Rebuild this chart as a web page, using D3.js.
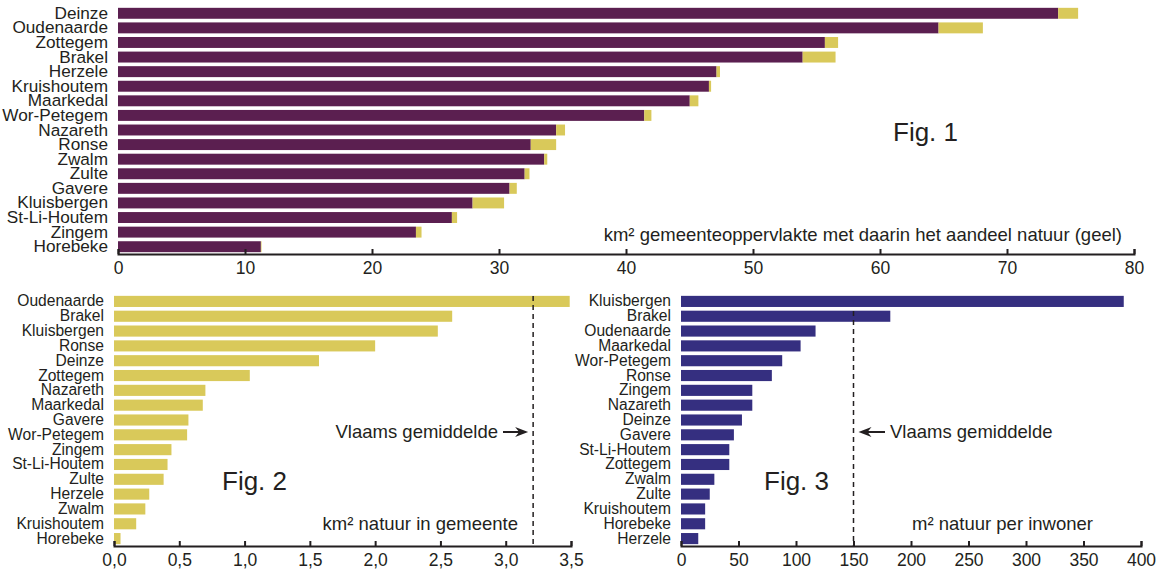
<!DOCTYPE html>
<html><head><meta charset="utf-8">
<script src="https://cdn.jsdelivr.net/npm/d3@7"></script>
<style>
body{margin:0;background:#fff;}
svg text{font-family:"Liberation Sans",Arial,sans-serif;fill:#231f20;}
</style></head>
<body><svg id="c" width="1159" height="573"></svg>
<script>
// Fig. 1: total municipal area (km²) with nature share
const fig1Names = ["Deinze","Oudenaarde","Zottegem","Brakel","Herzele","Kruishoutem","Maarkedal","Wor-Petegem","Nazareth","Ronse","Zwalm","Zulte","Gavere","Kluisbergen","St-Li-Houtem","Zingem","Horebeke"];
const fig1Total = [75.6,68.1,56.7,56.5,47.4,46.7,45.7,42.0,35.2,34.5,33.8,32.4,31.4,30.4,26.7,23.9,11.3];
const fig1Nature = [1.57,3.49,1.04,2.59,0.27,0.17,0.68,0.56,0.70,2.0,0.24,0.38,0.57,2.48,0.41,0.44,0.05];
const fig1Ticks = [0,10,20,30,40,50,60,70,80];

// Fig. 2: km² nature in municipality
const fig2Names = ["Oudenaarde","Brakel","Kluisbergen","Ronse","Deinze","Zottegem","Nazareth","Maarkedal","Gavere","Wor-Petegem","Zingem","St-Li-Houtem","Zulte","Herzele","Zwalm","Kruishoutem","Horebeke"];
const fig2Values = [3.49,2.59,2.48,2.0,1.57,1.04,0.70,0.68,0.57,0.56,0.44,0.41,0.38,0.27,0.24,0.17,0.05];
const fig2Ticks = [0,0.5,1,1.5,2,2.5,3,3.5];
const fig2Avg = 3.21;

// Fig. 3: m² nature per inhabitant
const fig3Names = ["Kluisbergen","Brakel","Oudenaarde","Maarkedal","Wor-Petegem","Ronse","Zingem","Nazareth","Deinze","Gavere","St-Li-Houtem","Zottegem","Zwalm","Zulte","Kruishoutem","Horebeke","Herzele"];
const fig3Values = [385,182,117,104,88,79,62,62,53,46,42,42,29,25,21,21,15];
const fig3Ticks = [0,50,100,150,200,250,300,350,400];
const fig3Avg = 150;

const purple = "#5b1f50", yellow = "#d9c95a", blue = "#352f80";
const svg = d3.select("#c");
const FS_TICK = 17.5, FS_NOTE = 18.5, FS_FIG = 26;

function drawAxis(g, x, y0, ticks, fmt){
  const ax = d3.axisBottom(x).tickValues(ticks).tickSize(-5).tickSizeOuter(-5).tickPadding(8).tickFormat(fmt);
  const a = g.append("g").attr("transform",`translate(0,${y0})`).call(ax);
  a.select(".domain").attr("stroke","#231f20").attr("stroke-width",2);
  a.selectAll(".tick line").attr("stroke","#231f20").attr("stroke-width",2);
  a.selectAll(".tick text").attr("font-size",FS_TICK).attr("font-family","Liberation Sans, Arial, sans-serif").attr("fill","#231f20");
}
function drawNames(g, y, xLeft, fs){
  const ax = d3.axisLeft(y).tickSize(0).tickPadding(10);
  const a = g.append("g").attr("transform",`translate(${xLeft},0)`).call(ax);
  a.select(".domain").remove();
  a.selectAll(".tick text").attr("font-size",fs).attr("font-family","Liberation Sans, Arial, sans-serif").attr("fill","#231f20");
}
function arrow(g, x1, x2, y){
  const dir = Math.sign(x2-x1);
  g.append("line").attr("x1",x1).attr("x2",x2-dir*8).attr("y1",y).attr("y2",y).attr("stroke","#231f20").attr("stroke-width",2);
  g.append("path").attr("d",`M${x2},${y} L${x2-dir*13},${y-5} L${x2-dir*9},${y} L${x2-dir*13},${y+5} Z`).attr("fill","#231f20");
}

// ---- Fig 1
{
  const g = svg.append("g");
  const x = d3.scaleLinear().domain([0,80]).range([118,1134]);
  const y = d3.scaleBand().domain(fig1Names).range([6,254]).paddingInner(0.25).paddingOuter(0.125);
  const rows = fig1Names.map((n,i)=>({n, t:fig1Total[i], nat:fig1Nature[i]}));
  g.selectAll("rect.p").data(rows).join("rect").attr("class","p")
    .attr("x",x(0)).attr("y",d=>y(d.n)).attr("height",y.bandwidth())
    .attr("width",d=>x(d.t-d.nat)-x(0)).attr("fill",purple);
  g.selectAll("rect.y").data(rows).join("rect").attr("class","y")
    .attr("x",d=>x(d.t-d.nat)).attr("y",d=>y(d.n)).attr("height",y.bandwidth())
    .attr("width",d=>x(d.t)-x(d.t-d.nat)).attr("fill",yellow);
  drawAxis(g, x, 254, fig1Ticks, d3.format("d"));
  drawNames(g, y, 118, 17.2);
  g.append("text").attr("x",893).attr("y",141).attr("font-size",FS_FIG).text("Fig. 1");
  g.append("text").attr("x",1122).attr("y",241).attr("text-anchor","end").attr("font-size",FS_NOTE).text("km² gemeenteoppervlakte met daarin het aandeel natuur (geel)");
}
// ---- Fig 2
{
  const g = svg.append("g");
  const x = d3.scaleLinear().domain([0,3.5]).range([114,571]);
  const y = d3.scaleBand().domain(fig2Names).range([294,546]).paddingInner(0.25).paddingOuter(0.125);
  g.selectAll("rect").data(fig2Names.map((n,i)=>({n,v:fig2Values[i]}))).join("rect")
    .attr("x",x(0)).attr("y",d=>y(d.n)).attr("height",y.bandwidth())
    .attr("width",d=>x(d.v)-x(0)).attr("fill",yellow);
  g.append("line").attr("x1",x(fig2Avg)).attr("x2",x(fig2Avg)).attr("y1",296).attr("y2",546)
    .attr("stroke","#231f20").attr("stroke-width",1.5).attr("stroke-dasharray","5,4");
  drawAxis(g, x, 546, fig2Ticks, d=>d3.format(".1f")(d).replace(".",","));
  drawNames(g, y, 114, 15.6);
  g.append("text").attr("x",498).attr("y",438).attr("text-anchor","end").attr("font-size",FS_NOTE).text("Vlaams gemiddelde");
  arrow(g, 503, x(fig2Avg)-5, 432);
  g.append("text").attr("x",222).attr("y",490).attr("font-size",FS_FIG).text("Fig. 2");
  g.append("text").attr("x",518).attr("y",530).attr("text-anchor","end").attr("font-size",FS_NOTE).text("km² natuur in gemeente");
}
// ---- Fig 3
{
  const g = svg.append("g");
  const x = d3.scaleLinear().domain([0,400]).range([681,1141]);
  const y = d3.scaleBand().domain(fig3Names).range([294,546]).paddingInner(0.25).paddingOuter(0.125);
  g.selectAll("rect").data(fig3Names.map((n,i)=>({n,v:fig3Values[i]}))).join("rect")
    .attr("x",x(0)).attr("y",d=>y(d.n)).attr("height",y.bandwidth())
    .attr("width",d=>x(d.v)-x(0)).attr("fill",blue);
  g.append("line").attr("x1",x(fig3Avg)).attr("x2",x(fig3Avg)).attr("y1",311).attr("y2",546)
    .attr("stroke","#231f20").attr("stroke-width",1.5).attr("stroke-dasharray","5,4");
  drawAxis(g, x, 546, fig3Ticks, d3.format("d"));
  drawNames(g, y, 681, 15.6);
  g.append("text").attr("x",890).attr("y",438).attr("font-size",FS_NOTE).text("Vlaams gemiddelde");
  arrow(g, 885, x(fig3Avg)+5, 432);
  g.append("text").attr("x",764).attr("y",490).attr("font-size",FS_FIG).text("Fig. 3");
  g.append("text").attr("x",912).attr("y",530).attr("font-size",FS_NOTE).text("m² natuur per inwoner");
}
</script></body></html>
